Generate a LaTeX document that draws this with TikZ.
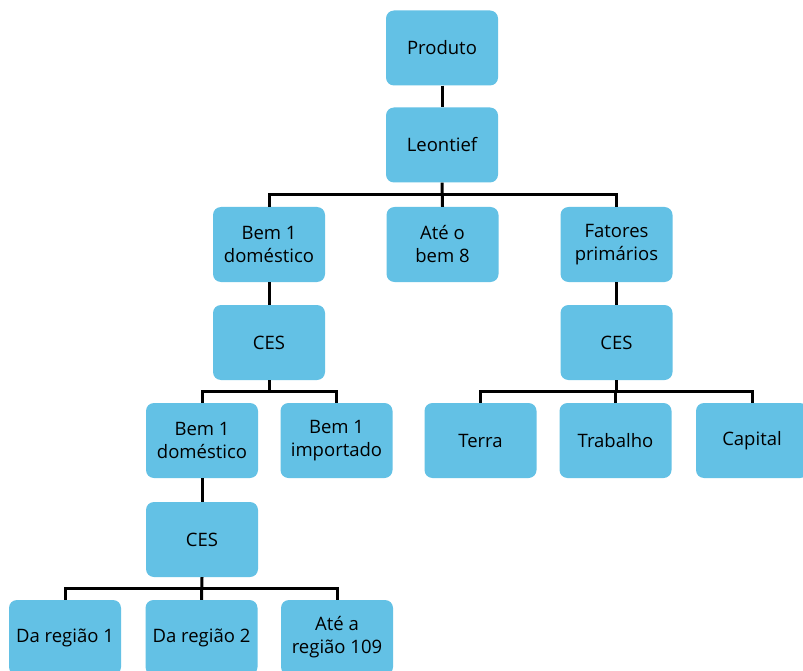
\documentclass[tikz,border=0pt]{standalone}
\usepackage{fontspec}
\setmainfont{Open Sans}
\usetikzlibrary{calc}
\definecolor{boxblue}{HTML}{63C1E5}
\tikzset{
  box/.style={fill=boxblue, rounded corners=8pt, minimum width=112pt, minimum height=75pt,
    align=center, font=\fontsize{18.5}{23}\selectfont, inner sep=1pt, text=black},
  conn/.style={draw=black, line width=3pt}
}
\begin{document}
\begin{tikzpicture}[x=1pt,y=-1pt]
\useasboundingbox (0,0) rectangle (803,671);
\fill[white] (0,0) rectangle (803,671);
\node[box] (produto) at (442,48) {Produto};
\node[box] (leontief) at (442,145) {Leontief};
\node[box] (bem1) at (269,244.5) {Bem 1\\doméstico};
\node[box] (ate8) at (442.5,244.5) {Até o\\bem 8};
\node[box] (fatores) at (616.5,244.5) {Fatores\\primários};
\node[box] (cesL) at (269,342.5) {CES};
\node[box] (cesR) at (616.5,342.5) {CES};
\node[box] (bem1d) at (202,440.5) {Bem 1\\doméstico};
\node[box] (bem1i) at (336.5,440.5) {Bem 1\\importado};
\node[box] (terra) at (480.5,440.5) {Terra};
\node[box] (trabalho) at (615.5,440.5) {Trabalho};
\node[box] (capital) at (752,440.5) {Capital};
\node[box] (ces2) at (202,539.5) {CES};
\node[box] (reg1) at (65,637.5) {Da região 1};
\node[box] (reg2) at (201.5,637.5) {Da região 2};
\node[box] (reg109) at (337,637.5) {Até a\\região 109};

\draw[conn] (produto.south) -- (leontief.north);
\coordinate (j1) at ($(leontief.south)!0.5!(leontief.south |- ate8.north)$);
\draw[conn] (leontief.south) -- (ate8.north);
\draw[conn] (bem1.north) |- (j1) -| (fatores.north);
\draw[conn] (bem1.south) -- (cesL.north);
\draw[conn] (fatores.south) -- (cesR.north);
\coordinate (j2) at ($(cesL.south)!0.5!(cesL.south |- bem1d.north)$);
\draw[conn] (cesL.south) -- (j2);
\draw[conn] (bem1d.north) |- (j2) -| (bem1i.north);
\coordinate (j3) at ($(cesR.south)!0.5!(cesR.south |- terra.north)$);
\draw[conn] (cesR.south) -- (j3);
\draw[conn] (terra.north) |- (j3) -| (capital.north);
\draw[conn] (j3 -| trabalho.north) -- (trabalho.north);
\draw[conn] (bem1d.south) -- (ces2.north);
\coordinate (j4) at ($(ces2.south)!0.5!(ces2.south |- reg1.north)$);
\draw[conn] (ces2.south) -- (reg2.north);
\draw[conn] (reg1.north) |- (j4) -| (reg109.north);
\end{tikzpicture}
\end{document}
